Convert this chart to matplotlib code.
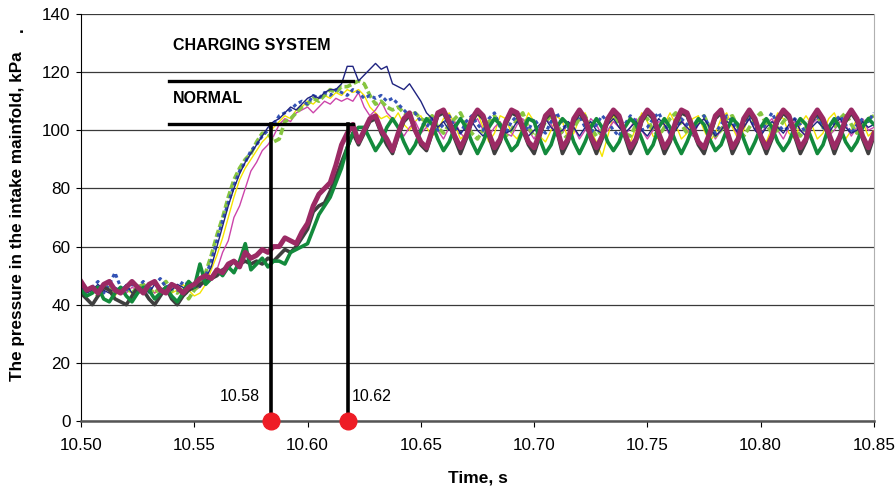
import numpy as np
import matplotlib
matplotlib.use("Agg")
import matplotlib.pyplot as plt

plt.rcParams['font.family'] = ['Liberation Sans', 'DejaVu Sans']

# time grid (s), one sample every 2.5 ms
t_start = 10.50
t_step = 0.0025
n_pts = 141

# charging system runs (fast rise)
navy = [46, 44, 45, 47, 45, 44, 46, 45, 47, 44,
        45, 46, 44, 47, 45, 46, 45, 47, 46, 45,
        47, 46, 49, 53, 60, 67, 74, 80, 85, 89,
        92, 95, 98, 101, 103, 104, 106, 108, 107, 109,
        111, 112, 111, 113, 114, 114, 116, 122, 122, 117,
        119, 121, 123, 121, 122, 116, 115, 114, 116, 113,
        110, 106, 104, 101, 103, 100, 102, 99, 101, 103,
        100, 98, 101, 104, 102, 99, 100, 103, 101, 98,
        100, 102, 104, 101, 99, 100, 103, 101, 98, 101,
        103, 100, 99, 102, 104, 101, 99, 101, 103, 100,
        98, 101, 104, 102, 99, 100, 103, 101, 99, 102,
        104, 101, 98, 100, 103, 102, 99, 101, 104, 100,
        98, 101, 103, 101, 99, 102, 104, 100, 98, 101,
        103, 101, 99, 102, 104, 101, 99, 100, 103, 101, 102]

blue_dot = [47, 45, 46, 48, 44, 47, 51, 46, 45, 47,
            46, 48, 45, 47, 49, 46, 47, 45, 48, 47,
            46, 48, 50, 55, 62, 69, 75, 81, 86, 89,
            93, 95, 98, 100, 102, 105, 106, 107, 109, 110,
            109, 112, 111, 113, 112, 114, 113, 112, 114, 113,
            111, 112, 111, 112, 110, 111, 109, 107, 105, 106,
            103, 101, 104, 100, 102, 105, 101, 99, 103, 105,
            102, 100, 104, 106, 101, 99, 103, 105, 102, 100,
            104, 101, 99, 103, 106, 102, 100, 103, 105, 101,
            99, 102, 105, 103, 100, 98, 102, 105, 103, 100,
            101, 104, 106, 102, 99, 101, 104, 102, 100, 103,
            105, 101, 99, 102, 105, 103, 100, 102, 105, 101,
            99, 103, 106, 102, 100, 101, 104, 102, 99, 103,
            105, 101, 100, 103, 105, 102, 99, 102, 104, 103, 106]

lgreen = [44, 46, 45, 43, 46, 47, 44, 45, 46, 44,
          46, 47, 45, 44, 46, 48, 45, 44, 46, 42,
          45, 47, 51, 57, 64, 70, 77, 83, 87, 90,
          92, 96, 99, 99, 96, 97, 103, 104, 106, 108,
          109, 111, 110, 112, 114, 113, 115, 115, 116, 117,
          116, 112, 109, 110, 108, 107, 108, 106, 105, 106,
          104, 103, 105, 101, 99, 102, 104, 106, 102, 99,
          97, 100, 103, 105, 102, 98, 100, 104, 106, 101,
          98, 99, 103, 105, 102, 99, 97, 101, 104, 105,
          101, 98, 100, 104, 106, 102, 99, 98, 102, 105,
          104, 100, 98, 101, 104, 106, 102, 99, 100, 103,
          105, 101, 98, 100, 104, 105, 101, 98, 101, 104,
          106, 102, 99, 100, 103, 105, 101, 98, 101, 104,
          105, 101, 99, 101, 104, 106, 102, 99, 102, 104, 105]

yellow = [45, 46, 44, 45, 47, 45, 43, 46, 45, 44,
          46, 45, 47, 44, 45, 46, 44, 45, 47, 45,
          43, 44, 47, 52, 57, 63, 70, 77, 83, 87,
          90, 93, 96, 98, 101, 103, 105, 104, 107, 108,
          110, 109, 111, 112, 111, 113, 112, 114, 113, 114,
          112, 108, 106, 104, 105, 103, 106, 102, 100, 103,
          105, 101, 98, 100, 104, 106, 102, 97, 99, 104,
          106, 101, 96, 99, 105, 104, 99, 97, 101, 106,
          103, 98, 96, 100, 105, 103, 97, 99, 104, 106,
          100, 96, 91, 98, 105, 104, 99, 96, 101, 106,
          103, 98, 97, 102, 106, 102, 97, 99, 104, 105,
          100, 96, 99, 104, 106, 101, 97, 100, 105, 103,
          98, 96, 101, 106, 104, 99, 97, 102, 105, 102,
          97, 99, 104, 106, 101, 97, 100, 104, 103, 98, 100]

magenta = [47, 45, 46, 44, 46, 47, 45, 46, 44, 46,
           45, 47, 46, 44, 46, 45, 47, 46, 45, 46,
           45, 46, 48, 50, 52, 58, 62, 70, 74, 80,
           86, 89, 93, 95, 98, 102, 104, 103, 106, 107,
           108, 106, 108, 110, 109, 111, 110, 111, 110, 113,
           108, 105, 107, 110, 106, 104, 101, 98, 101, 103,
           99, 101, 104, 100, 97, 101, 103, 99, 97, 102,
           104, 100, 98, 101, 103, 99, 98, 102, 104, 100,
           97, 101, 104, 102, 98, 99, 103, 101, 97, 100,
           104, 102, 98, 100, 103, 101, 98, 101, 104, 100,
           97, 100, 103, 102, 98, 101, 104, 100, 98, 102,
           104, 101, 97, 100, 103, 102, 98, 101, 104, 100,
           98, 102, 104, 100, 97, 101, 103, 100, 98, 102,
           104, 101, 98, 100, 103, 102, 98, 101, 104, 100, 101]

# normal runs (slow rise)
gray = [44, 42, 40, 43, 46, 45, 42, 41, 40, 43,
        46, 45, 42, 40, 43, 46, 42, 40, 43, 45,
        46, 47, 48, 49, 50, 52, 53, 55, 54, 55,
        54, 55, 54, 56, 55, 57, 59, 58, 60, 63,
        66, 72, 74, 75, 79, 84, 89, 94, 99, 95,
        99, 103, 104, 99, 95, 92, 98, 103, 105, 100,
        95, 93, 99, 105, 106, 102, 97, 92, 97, 103,
        106, 104, 98, 92, 96, 102, 106, 105, 100, 95,
        92, 98, 104, 106, 100, 92, 96, 103, 106, 103,
        97, 92, 97, 103, 106, 104, 98, 92, 96, 103,
        106, 104, 98, 92, 96, 102, 106, 105, 100, 95,
        92, 98, 104, 106, 99, 92, 96, 103, 106, 103,
        97, 92, 97, 103, 106, 104, 98, 92, 96, 103,
        106, 103, 98, 92, 97, 103, 106, 103, 97, 92, 98]

green = [45, 43, 44, 46, 42, 41, 44, 46, 43, 41,
         44, 46, 45, 42, 44, 46, 43, 41, 44, 48,
         46, 54, 47, 49, 52, 50, 53, 51, 55, 61,
         52, 54, 56, 53, 55, 55, 54, 58, 59, 60,
         61, 66, 71, 74, 77, 82, 87, 94, 99, 101,
         101, 97, 93, 96, 101, 104, 101, 96, 92, 95,
         100, 104, 102, 97, 93, 96, 101, 104, 101, 96,
         92, 96, 101, 104, 102, 97, 93, 95, 100, 104,
         103, 97, 92, 95, 101, 104, 102, 96, 92, 96,
         101, 104, 101, 96, 93, 96, 101, 104, 102, 97,
         92, 95, 101, 104, 101, 96, 92, 96, 101, 104,
         102, 97, 93, 95, 100, 104, 102, 97, 92, 96,
         101, 104, 101, 96, 93, 96, 101, 104, 102, 97,
         92, 95, 101, 104, 101, 96, 93, 96, 101, 104, 102]

maroon = [48, 45, 46, 44, 47, 48, 45, 44, 46, 48,
          46, 44, 47, 48, 45, 44, 47, 46, 44, 46,
          47, 49, 50, 49, 52, 51, 54, 55, 53, 58,
          56, 57, 59, 58, 60, 60, 63, 62, 61, 65,
          68, 74, 78, 80, 82, 88, 95, 99, 102, 96,
          100, 104, 105, 100, 97, 93, 99, 104, 106, 100,
          96, 94, 100, 106, 107, 103, 98, 94, 98, 104,
          107, 105, 99, 94, 97, 103, 107, 106, 101, 96,
          94, 99, 105, 107, 101, 94, 97, 104, 107, 104,
          98, 94, 98, 104, 107, 105, 99, 94, 97, 104,
          107, 105, 99, 94, 97, 103, 107, 106, 101, 96,
          94, 99, 105, 107, 100, 94, 97, 104, 107, 104,
          98, 94, 98, 104, 107, 105, 99, 94, 97, 104,
          107, 104, 99, 94, 98, 104, 107, 104, 98, 94, 99]

# annotation values
mark_times = [10.584, 10.618]
mark_labels = ['10.58', '10.62']
normal_level = 102
charging_level = 117
level_span = [10.539, 10.620]

t = t_start + t_step * np.arange(n_pts)

fig = plt.figure(figsize=(8.96, 4.88), dpi=100)
ax = fig.add_axes([0.0904, 0.1373, 0.885, 0.834])

# thin / dashed charging runs
ax.plot(t, yellow, color='#f5e400', lw=1.0)
ax.plot(t, magenta, color='#cc44aa', lw=1.0)
ax.plot(t, lgreen, color='#86c540', lw=2.6, dashes=(2.0, 0.8))
ax.plot(t, blue_dot, color='#3352b5', lw=2.2, dashes=(1.2, 1.0))
ax.plot(t, navy, color='#1f2380', lw=1.0)
# thick normal runs
ax.plot(t, gray, color='#3f3f3f', lw=2.6, solid_joinstyle='round')
ax.plot(t, green, color='#138a3c', lw=2.6, solid_joinstyle='round')
ax.plot(t, maroon, color='#9b2a64', lw=3.6, solid_joinstyle='round')

# level lines and markers
ax.plot(level_span, [charging_level, charging_level], color='black', lw=2.4)
ax.plot(level_span, [normal_level, normal_level], color='black', lw=2.4)
for mt in mark_times:
    ax.plot([mt, mt], [0, normal_level], color='black', lw=2.6)
ax.plot(mark_times, [0, 0], 'o', color='#ee1c25', ms=12, clip_on=False, zorder=10)

ax.text(10.5405, 129, 'CHARGING SYSTEM', fontsize=11.5, fontweight='bold', va='center')
ax.text(10.5405, 111, 'NORMAL', fontsize=11.5, fontweight='bold', va='center')
ax.text(mark_times[0] - 0.005, 8.5, mark_labels[0], fontsize=11.5, ha='right', va='center')
ax.text(mark_times[1] + 0.0015, 8.5, mark_labels[1], fontsize=11.5, ha='left', va='center')

ax.set_xlim(10.50, 10.85)
ax.set_ylim(0, 140)
ax.set_xticks(np.arange(10.50, 10.851, 0.05))
ax.set_xticklabels(['%.2f' % v for v in np.arange(10.50, 10.851, 0.05)])
ax.set_yticks(range(0, 141, 20))
ax.tick_params(labelsize=12.3, direction='out', width=0.8)
ax.tick_params(axis='x', length=4.5, pad=8)
ax.tick_params(axis='y', length=3.5, pad=4)
ax.grid(axis='y', color='#3a3a3a', lw=0.9)
ax.set_axisbelow(True)

ax.spines['top'].set_visible(False)
ax.spines['right'].set_color('#b0b0b0')
ax.spines['left'].set_color('black')
ax.spines['bottom'].set_color('#555555')
ax.spines['bottom'].set_linewidth(1.8)

ax.set_xlabel('Time, s', fontsize=12.5, fontweight='bold', labelpad=12)

# y label placed in figure pixels, with the stray dot above it
fig.text(18 / 896, 1 - 381 / 488, 'The pressure in the intake mainfold, kPa',
         rotation=90, fontsize=12.3, fontweight='bold', ha='center', va='bottom')
fig.text(18 / 896, 1 - 32 / 488, '.', rotation=90, fontsize=12.3,
         fontweight='bold', ha='center', va='bottom')

fig.savefig('out.png', dpi=100)
